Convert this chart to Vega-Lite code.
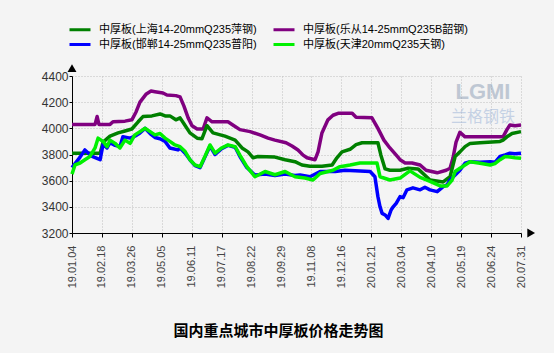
{
  "$schema": "https://vega.github.io/schema/vega-lite/v6.json",
  "autosize": "none",
  "width": 449,
  "height": 157,
  "padding": {"left": 72, "top": 76, "right": 33, "bottom": 120},
  "background": "#f4f4f4",
  "config": {
    "view": {"stroke": null, "fill": "#f4f4f4"},
    "font": "Liberation Sans, Noto Sans CJK SC",
    "axisX": {
      "labelAngle": -90, "labelAlign": "right", "labelBaseline": "middle",
      "labelFont": "Liberation Sans", "labelFontSize": 11, "labelColor": "#444444",
      "labelPadding": 8, "labelOverlap": false, "labelFlush": false,
      "domainColor": "#000000", "domainWidth": 1, "tickColor": "#000000", "tickSize": 4,
      "grid": true, "gridColor": "#bfbfbf", "gridDash": [1, 2]
    },
    "axisY": {
      "labelFont": "Liberation Sans", "labelFontSize": 12, "labelColor": "#333333",
      "labelPadding": 1, "domainColor": "#000000", "domainWidth": 1,
      "tickColor": "#000000", "tickSize": 3,
      "grid": true, "gridColor": "#bfbfbf", "gridDash": [1, 2]
    }
  },
  "title": {
    "text": "国内重点城市中厚板价格走势图",
    "orient": "bottom",
    "anchor": "middle",
    "frame": "group",
    "dx": -18,
    "offset": 36,
    "font": "Noto Sans CJK SC",
    "fontSize": 15,
    "fontWeight": "bold",
    "color": "#000000"
  },
  "datasets": {
    "marks": [{"k": "a"}],
    "prices": [
      {"s": "乐从", "x": 0, "y": 4030}, {"s": "乐从", "x": 0.77, "y": 4030}, {"s": "乐从", "x": 0.84, "y": 4090}, {"s": "乐从", "x": 0.9, "y": 4030},
      {"s": "乐从", "x": 1.27, "y": 4030}, {"s": "乐从", "x": 1.37, "y": 4050}, {"s": "乐从", "x": 1.77, "y": 4055}, {"s": "乐从", "x": 2.0, "y": 4065},
      {"s": "乐从", "x": 2.14, "y": 4125}, {"s": "乐从", "x": 2.27, "y": 4200}, {"s": "乐从", "x": 2.47, "y": 4260}, {"s": "乐从", "x": 2.64, "y": 4285},
      {"s": "乐从", "x": 2.77, "y": 4280}, {"s": "乐从", "x": 3.04, "y": 4270}, {"s": "乐从", "x": 3.17, "y": 4255}, {"s": "乐从", "x": 3.47, "y": 4250},
      {"s": "乐从", "x": 3.61, "y": 4240}, {"s": "乐从", "x": 3.74, "y": 4170}, {"s": "乐从", "x": 3.88, "y": 4080}, {"s": "乐从", "x": 4.01, "y": 4020},
      {"s": "乐从", "x": 4.18, "y": 3995}, {"s": "乐从", "x": 4.38, "y": 3995}, {"s": "乐从", "x": 4.51, "y": 4080}, {"s": "乐从", "x": 4.68, "y": 4050},
      {"s": "乐从", "x": 5.21, "y": 4050}, {"s": "乐从", "x": 5.41, "y": 4020}, {"s": "乐从", "x": 5.61, "y": 3990}, {"s": "乐从", "x": 5.95, "y": 3975},
      {"s": "乐从", "x": 6.28, "y": 3950}, {"s": "乐从", "x": 6.55, "y": 3925}, {"s": "乐从", "x": 6.78, "y": 3910}, {"s": "乐从", "x": 7.15, "y": 3890},
      {"s": "乐从", "x": 7.35, "y": 3865}, {"s": "乐从", "x": 7.55, "y": 3835}, {"s": "乐从", "x": 7.72, "y": 3795}, {"s": "乐从", "x": 7.85, "y": 3775},
      {"s": "乐从", "x": 8.12, "y": 3760}, {"s": "乐从", "x": 8.22, "y": 3820}, {"s": "乐从", "x": 8.35, "y": 3965}, {"s": "乐从", "x": 8.55, "y": 4065},
      {"s": "乐从", "x": 8.72, "y": 4100}, {"s": "乐从", "x": 8.89, "y": 4115}, {"s": "乐从", "x": 9.36, "y": 4115}, {"s": "乐从", "x": 9.49, "y": 4085},
      {"s": "乐从", "x": 10.02, "y": 4080}, {"s": "乐从", "x": 10.22, "y": 4000}, {"s": "乐从", "x": 10.42, "y": 3910}, {"s": "乐从", "x": 10.62, "y": 3850},
      {"s": "乐从", "x": 10.89, "y": 3780}, {"s": "乐从", "x": 10.96, "y": 3760}, {"s": "乐从", "x": 11.13, "y": 3735}, {"s": "乐从", "x": 11.36, "y": 3735},
      {"s": "乐从", "x": 11.63, "y": 3720}, {"s": "乐从", "x": 11.83, "y": 3680}, {"s": "乐从", "x": 12.2, "y": 3660}, {"s": "乐从", "x": 12.5, "y": 3680},
      {"s": "乐从", "x": 12.63, "y": 3695}, {"s": "乐从", "x": 12.73, "y": 3775}, {"s": "乐从", "x": 12.83, "y": 3895}, {"s": "乐从", "x": 12.96, "y": 3970},
      {"s": "乐从", "x": 13.13, "y": 3935}, {"s": "乐从", "x": 14.4, "y": 3935}, {"s": "乐从", "x": 14.53, "y": 3990}, {"s": "乐从", "x": 14.63, "y": 4025},
      {"s": "乐从", "x": 14.8, "y": 4020}, {"s": "乐从", "x": 15, "y": 4025},

      {"s": "上海", "x": 0, "y": 3810}, {"s": "上海", "x": 0.94, "y": 3810}, {"s": "上海", "x": 1.04, "y": 3895}, {"s": "上海", "x": 1.27, "y": 3940},
      {"s": "上海", "x": 1.54, "y": 3965}, {"s": "上海", "x": 1.77, "y": 3980}, {"s": "上海", "x": 2.0, "y": 3995}, {"s": "上海", "x": 2.21, "y": 4050},
      {"s": "上海", "x": 2.37, "y": 4090}, {"s": "上海", "x": 2.67, "y": 4095}, {"s": "上海", "x": 2.94, "y": 4110}, {"s": "上海", "x": 3.11, "y": 4095},
      {"s": "上海", "x": 3.27, "y": 4095}, {"s": "上海", "x": 3.47, "y": 4065}, {"s": "上海", "x": 3.61, "y": 4080}, {"s": "上海", "x": 3.74, "y": 4035},
      {"s": "上海", "x": 3.94, "y": 3965}, {"s": "上海", "x": 4.18, "y": 3925}, {"s": "上海", "x": 4.34, "y": 3920}, {"s": "上海", "x": 4.51, "y": 4020},
      {"s": "上海", "x": 4.71, "y": 3965}, {"s": "上海", "x": 5.11, "y": 3940}, {"s": "上海", "x": 5.45, "y": 3910}, {"s": "上海", "x": 5.68, "y": 3850},
      {"s": "上海", "x": 5.88, "y": 3820}, {"s": "上海", "x": 6.05, "y": 3775}, {"s": "上海", "x": 6.21, "y": 3785}, {"s": "上海", "x": 6.78, "y": 3780},
      {"s": "上海", "x": 7.12, "y": 3760}, {"s": "上海", "x": 7.45, "y": 3745}, {"s": "上海", "x": 7.68, "y": 3720}, {"s": "上海", "x": 7.95, "y": 3710},
      {"s": "上海", "x": 8.35, "y": 3710}, {"s": "上海", "x": 8.69, "y": 3720}, {"s": "上海", "x": 8.85, "y": 3775}, {"s": "上海", "x": 9.02, "y": 3820},
      {"s": "上海", "x": 9.29, "y": 3840}, {"s": "上海", "x": 9.49, "y": 3875}, {"s": "上海", "x": 9.69, "y": 3890}, {"s": "上海", "x": 10.22, "y": 3890},
      {"s": "上海", "x": 10.32, "y": 3795}, {"s": "上海", "x": 10.46, "y": 3690}, {"s": "上海", "x": 10.62, "y": 3680}, {"s": "上海", "x": 10.96, "y": 3680},
      {"s": "上海", "x": 11.23, "y": 3695}, {"s": "上海", "x": 11.56, "y": 3690}, {"s": "上海", "x": 11.96, "y": 3605}, {"s": "上海", "x": 12.4, "y": 3590},
      {"s": "上海", "x": 12.63, "y": 3630}, {"s": "上海", "x": 12.8, "y": 3785}, {"s": "上海", "x": 12.96, "y": 3820}, {"s": "上海", "x": 13.13, "y": 3860},
      {"s": "上海", "x": 13.3, "y": 3885}, {"s": "上海", "x": 13.63, "y": 3890}, {"s": "上海", "x": 14.3, "y": 3900}, {"s": "上海", "x": 14.4, "y": 3910},
      {"s": "上海", "x": 14.53, "y": 3935}, {"s": "上海", "x": 14.7, "y": 3960}, {"s": "上海", "x": 15, "y": 3975},

      {"s": "邯郸", "x": 0, "y": 3700}, {"s": "邯郸", "x": 0.27, "y": 3780}, {"s": "邯郸", "x": 0.43, "y": 3835}, {"s": "邯郸", "x": 0.67, "y": 3785},
      {"s": "邯郸", "x": 0.94, "y": 3760}, {"s": "邯郸", "x": 1.04, "y": 3880}, {"s": "邯郸", "x": 1.17, "y": 3850}, {"s": "邯郸", "x": 1.27, "y": 3890},
      {"s": "邯郸", "x": 1.44, "y": 3870}, {"s": "邯郸", "x": 1.6, "y": 3860}, {"s": "邯郸", "x": 1.7, "y": 3935}, {"s": "邯郸", "x": 1.94, "y": 3925},
      {"s": "邯郸", "x": 2.1, "y": 3940}, {"s": "邯郸", "x": 2.27, "y": 3965}, {"s": "邯郸", "x": 2.44, "y": 4000}, {"s": "邯郸", "x": 2.61, "y": 3960},
      {"s": "邯郸", "x": 2.77, "y": 3930}, {"s": "邯郸", "x": 2.94, "y": 3920}, {"s": "邯郸", "x": 3.11, "y": 3900}, {"s": "邯郸", "x": 3.27, "y": 3850},
      {"s": "邯郸", "x": 3.54, "y": 3835}, {"s": "邯郸", "x": 3.61, "y": 3850}, {"s": "邯郸", "x": 3.78, "y": 3810}, {"s": "邯郸", "x": 3.94, "y": 3760},
      {"s": "邯郸", "x": 4.11, "y": 3715}, {"s": "邯郸", "x": 4.28, "y": 3700}, {"s": "邯郸", "x": 4.44, "y": 3780}, {"s": "邯郸", "x": 4.61, "y": 3865},
      {"s": "邯郸", "x": 4.78, "y": 3800}, {"s": "邯郸", "x": 5.0, "y": 3845}, {"s": "邯郸", "x": 5.21, "y": 3870}, {"s": "邯郸", "x": 5.45, "y": 3855},
      {"s": "邯郸", "x": 5.61, "y": 3785}, {"s": "邯郸", "x": 5.84, "y": 3700}, {"s": "邯郸", "x": 6.11, "y": 3643}, {"s": "邯郸", "x": 6.45, "y": 3650},
      {"s": "邯郸", "x": 6.78, "y": 3640}, {"s": "邯郸", "x": 7.12, "y": 3650}, {"s": "邯郸", "x": 7.45, "y": 3640}, {"s": "邯郸", "x": 7.62, "y": 3643},
      {"s": "邯郸", "x": 7.95, "y": 3630}, {"s": "邯郸", "x": 8.29, "y": 3670}, {"s": "邯郸", "x": 8.79, "y": 3670}, {"s": "邯郸", "x": 9.12, "y": 3680},
      {"s": "邯郸", "x": 9.46, "y": 3675}, {"s": "邯郸", "x": 9.96, "y": 3670}, {"s": "邯郸", "x": 10.12, "y": 3630}, {"s": "邯郸", "x": 10.22, "y": 3478},
      {"s": "邯郸", "x": 10.29, "y": 3400}, {"s": "邯郸", "x": 10.36, "y": 3350}, {"s": "邯郸", "x": 10.46, "y": 3338}, {"s": "邯郸", "x": 10.56, "y": 3312},
      {"s": "邯郸", "x": 10.66, "y": 3376}, {"s": "邯郸", "x": 10.73, "y": 3400}, {"s": "邯郸", "x": 10.83, "y": 3427}, {"s": "邯郸", "x": 10.96, "y": 3478},
      {"s": "邯郸", "x": 11.06, "y": 3470}, {"s": "邯郸", "x": 11.19, "y": 3530}, {"s": "邯郸", "x": 11.39, "y": 3545}, {"s": "邯郸", "x": 11.63, "y": 3530},
      {"s": "邯郸", "x": 11.79, "y": 3550}, {"s": "邯郸", "x": 11.96, "y": 3530}, {"s": "邯郸", "x": 12.2, "y": 3516}, {"s": "邯郸", "x": 12.4, "y": 3555},
      {"s": "邯郸", "x": 12.53, "y": 3567}, {"s": "邯郸", "x": 12.63, "y": 3605}, {"s": "邯郸", "x": 12.8, "y": 3643}, {"s": "邯郸", "x": 12.96, "y": 3680},
      {"s": "邯郸", "x": 13.13, "y": 3733}, {"s": "邯郸", "x": 13.3, "y": 3745}, {"s": "邯郸", "x": 13.63, "y": 3740}, {"s": "邯郸", "x": 13.97, "y": 3745},
      {"s": "邯郸", "x": 14.13, "y": 3740}, {"s": "邯郸", "x": 14.3, "y": 3785}, {"s": "邯郸", "x": 14.47, "y": 3797}, {"s": "邯郸", "x": 14.63, "y": 3810},
      {"s": "邯郸", "x": 14.8, "y": 3805}, {"s": "邯郸", "x": 15, "y": 3810},

      {"s": "天津", "x": 0, "y": 3650}, {"s": "天津", "x": 0.1, "y": 3720}, {"s": "天津", "x": 0.27, "y": 3735}, {"s": "天津", "x": 0.43, "y": 3760},
      {"s": "天津", "x": 0.6, "y": 3785}, {"s": "天津", "x": 0.77, "y": 3850}, {"s": "天津", "x": 0.87, "y": 3925}, {"s": "天津", "x": 1.04, "y": 3900},
      {"s": "天津", "x": 1.17, "y": 3860}, {"s": "天津", "x": 1.27, "y": 3910}, {"s": "天津", "x": 1.44, "y": 3885}, {"s": "天津", "x": 1.6, "y": 3850},
      {"s": "天津", "x": 1.77, "y": 3910}, {"s": "天津", "x": 1.94, "y": 3885}, {"s": "天津", "x": 2.1, "y": 3950}, {"s": "天津", "x": 2.27, "y": 3975},
      {"s": "天津", "x": 2.44, "y": 4000}, {"s": "天津", "x": 2.61, "y": 3975}, {"s": "天津", "x": 2.77, "y": 3950}, {"s": "天津", "x": 2.94, "y": 3960},
      {"s": "天津", "x": 3.11, "y": 3925}, {"s": "天津", "x": 3.27, "y": 3900}, {"s": "天津", "x": 3.44, "y": 3873}, {"s": "天津", "x": 3.61, "y": 3860},
      {"s": "天津", "x": 3.78, "y": 3822}, {"s": "天津", "x": 3.94, "y": 3760}, {"s": "天津", "x": 4.11, "y": 3720}, {"s": "天津", "x": 4.28, "y": 3707},
      {"s": "天津", "x": 4.44, "y": 3785}, {"s": "天津", "x": 4.61, "y": 3873}, {"s": "天津", "x": 4.78, "y": 3810}, {"s": "天津", "x": 5.0, "y": 3850},
      {"s": "天津", "x": 5.21, "y": 3873}, {"s": "天津", "x": 5.45, "y": 3860}, {"s": "天津", "x": 5.61, "y": 3795}, {"s": "天津", "x": 5.84, "y": 3707},
      {"s": "天津", "x": 6.11, "y": 3630}, {"s": "天津", "x": 6.45, "y": 3670}, {"s": "天津", "x": 6.78, "y": 3645}, {"s": "天津", "x": 7.12, "y": 3670},
      {"s": "天津", "x": 7.45, "y": 3630}, {"s": "天津", "x": 7.78, "y": 3620}, {"s": "天津", "x": 8.05, "y": 3605}, {"s": "天津", "x": 8.29, "y": 3655},
      {"s": "天津", "x": 8.72, "y": 3680}, {"s": "天津", "x": 8.95, "y": 3707}, {"s": "天津", "x": 9.29, "y": 3720}, {"s": "天津", "x": 9.62, "y": 3735},
      {"s": "天津", "x": 10.19, "y": 3735}, {"s": "天津", "x": 10.29, "y": 3630}, {"s": "天津", "x": 10.62, "y": 3605}, {"s": "天津", "x": 10.96, "y": 3620},
      {"s": "天津", "x": 11.29, "y": 3675}, {"s": "天津", "x": 11.63, "y": 3625}, {"s": "天津", "x": 11.96, "y": 3595}, {"s": "天津", "x": 12.3, "y": 3560},
      {"s": "天津", "x": 12.53, "y": 3560}, {"s": "天津", "x": 12.7, "y": 3605}, {"s": "天津", "x": 12.8, "y": 3670}, {"s": "天津", "x": 12.96, "y": 3695},
      {"s": "天津", "x": 13.13, "y": 3720}, {"s": "天津", "x": 13.3, "y": 3745}, {"s": "天津", "x": 13.63, "y": 3733}, {"s": "天津", "x": 13.97, "y": 3720},
      {"s": "天津", "x": 14.13, "y": 3730}, {"s": "天津", "x": 14.3, "y": 3760}, {"s": "天津", "x": 14.47, "y": 3785}, {"s": "天津", "x": 14.8, "y": 3775},
      {"s": "天津", "x": 15, "y": 3771}
    ]
  },
  "layer": [
    {
      "data": {"name": "marks"},
      "mark": {"type": "text", "text": "LGMI", "font": "Liberation Sans", "fontSize": 22, "fontWeight": "bold", "opacity": 0.5, "color": "#8a9cb4"},
      "encoding": {
        "x": {"datum": 13.73, "type": "quantitative", "scale": {"domain": [0, 15], "nice": false, "zero": false}, "axis": {"title": null, "values": [0, 1, 2, 3, 4, 5, 6, 7, 8, 9, 10, 11, 12, 13, 14, 15], "labelExpr": "['19.01.04','19.02.18','19.03.26','19.05.05','19.06.11','19.07.17','19.08.22','19.09.29','19.11.08','19.12.16','20.01.21','20.03.04','20.04.10','20.05.19','20.06.24','20.07.31'][datum.value]"}},
        "y": {"datum": 4275, "type": "quantitative", "scale": {"domain": [3200, 4400], "nice": false, "zero": false}, "axis": {"title": null, "values": [3200, 3400, 3600, 3800, 4000, 4200, 4400], "format": "d"}}
      }
    },
    {
      "data": {"name": "marks"},
      "mark": {"type": "text", "text": "兰格钢铁", "font": "Noto Sans CJK SC", "fontSize": 16, "opacity": 0.55, "color": "#9fb6d8"},
      "encoding": {
        "x": {"datum": 13.73, "type": "quantitative", "scale": {"domain": [0, 15], "nice": false, "zero": false}, "axis": {"title": null, "values": [0, 1, 2, 3, 4, 5, 6, 7, 8, 9, 10, 11, 12, 13, 14, 15], "labelExpr": "['19.01.04','19.02.18','19.03.26','19.05.05','19.06.11','19.07.17','19.08.22','19.09.29','19.11.08','19.12.16','20.01.21','20.03.04','20.04.10','20.05.19','20.06.24','20.07.31'][datum.value]"}},
        "y": {"datum": 4085, "type": "quantitative", "scale": {"domain": [3200, 4400], "nice": false, "zero": false}, "axis": {"title": null, "values": [3200, 3400, 3600, 3800, 4000, 4200, 4400], "format": "d"}}
      }
    },
    {
      "data": {"name": "prices"},
      "transform": [{"filter": "datum.s != null"}],
      "mark": {"type": "line", "strokeWidth": 3.5, "strokeJoin": "round"},
      "encoding": {
        "x": {"field": "x", "type": "quantitative", "scale": {"domain": [0, 15], "nice": false, "zero": false}, "axis": {"title": null, "values": [0, 1, 2, 3, 4, 5, 6, 7, 8, 9, 10, 11, 12, 13, 14, 15], "labelExpr": "['19.01.04','19.02.18','19.03.26','19.05.05','19.06.11','19.07.17','19.08.22','19.09.29','19.11.08','19.12.16','20.01.21','20.03.04','20.04.10','20.05.19','20.06.24','20.07.31'][datum.value]"}},
        "y": {"field": "y", "type": "quantitative", "scale": {"domain": [3200, 4400], "nice": false, "zero": false}, "axis": {"title": null, "values": [3200, 3400, 3600, 3800, 4000, 4200, 4400], "format": "d"}},
        "color": {
          "field": "s",
          "type": "nominal",
          "scale": {
            "domain": ["上海", "邯郸", "乐从", "天津"],
            "range": ["#008000", "#0000ff", "#800080", "#00f000"]
          },
          "legend": {
            "orient": "none",
            "legendX": -0.5,
            "legendY": -55,
            "columns": 2,
            "title": null,
            "symbolType": "M-1.5,0H1.5",
            "symbolSize": 196,
            "symbolStrokeWidth": 3,
            "labelExpr": "{'上海':'中厚板(上海14-20mmQ235萍钢)','乐从':'中厚板(乐从14-25mmQ235B韶钢)','邯郸':'中厚板(邯郸14-25mmQ235普阳)','天津':'中厚板(天津20mmQ235天钢)'}[datum.label]",
            "labelFont": "Liberation Sans, Noto Sans CJK SC",
            "labelFontSize": 11,
            "labelColor": "#000000",
            "labelLimit": 300,
            "labelOffset": 10.5,
            "rowPadding": 0,
            "columnPadding": 10
          }
        },
        "order": {"field": "s", "sort": "ascending"}
      }
    },
    {
      "data": {"name": "marks"},
      "mark": {"type": "point", "shape": "triangle-up", "filled": true, "size": 80, "opacity": 1, "color": "#000000"},
      "encoding": {
        "x": {"datum": 0, "type": "quantitative", "scale": {"domain": [0, 15], "nice": false, "zero": false}, "axis": {"title": null, "values": [0, 1, 2, 3, 4, 5, 6, 7, 8, 9, 10, 11, 12, 13, 14, 15], "labelExpr": "['19.01.04','19.02.18','19.03.26','19.05.05','19.06.11','19.07.17','19.08.22','19.09.29','19.11.08','19.12.16','20.01.21','20.03.04','20.04.10','20.05.19','20.06.24','20.07.31'][datum.value]"}},
        "y": {"datum": 4460, "type": "quantitative", "scale": {"domain": [3200, 4400], "nice": false, "zero": false}, "axis": {"title": null, "values": [3200, 3400, 3600, 3800, 4000, 4200, 4400], "format": "d"}}
      }
    },
    {
      "data": {"name": "marks"},
      "mark": {"type": "point", "shape": "triangle-right", "filled": true, "size": 80, "opacity": 1, "color": "#000000"},
      "encoding": {
        "x": {"datum": 15.34, "type": "quantitative", "scale": {"domain": [0, 15], "nice": false, "zero": false}, "axis": {"title": null, "values": [0, 1, 2, 3, 4, 5, 6, 7, 8, 9, 10, 11, 12, 13, 14, 15], "labelExpr": "['19.01.04','19.02.18','19.03.26','19.05.05','19.06.11','19.07.17','19.08.22','19.09.29','19.11.08','19.12.16','20.01.21','20.03.04','20.04.10','20.05.19','20.06.24','20.07.31'][datum.value]"}},
        "y": {"datum": 3200, "type": "quantitative", "scale": {"domain": [3200, 4400], "nice": false, "zero": false}, "axis": {"title": null, "values": [3200, 3400, 3600, 3800, 4000, 4200, 4400], "format": "d"}}
      }
    }
  ]
}
